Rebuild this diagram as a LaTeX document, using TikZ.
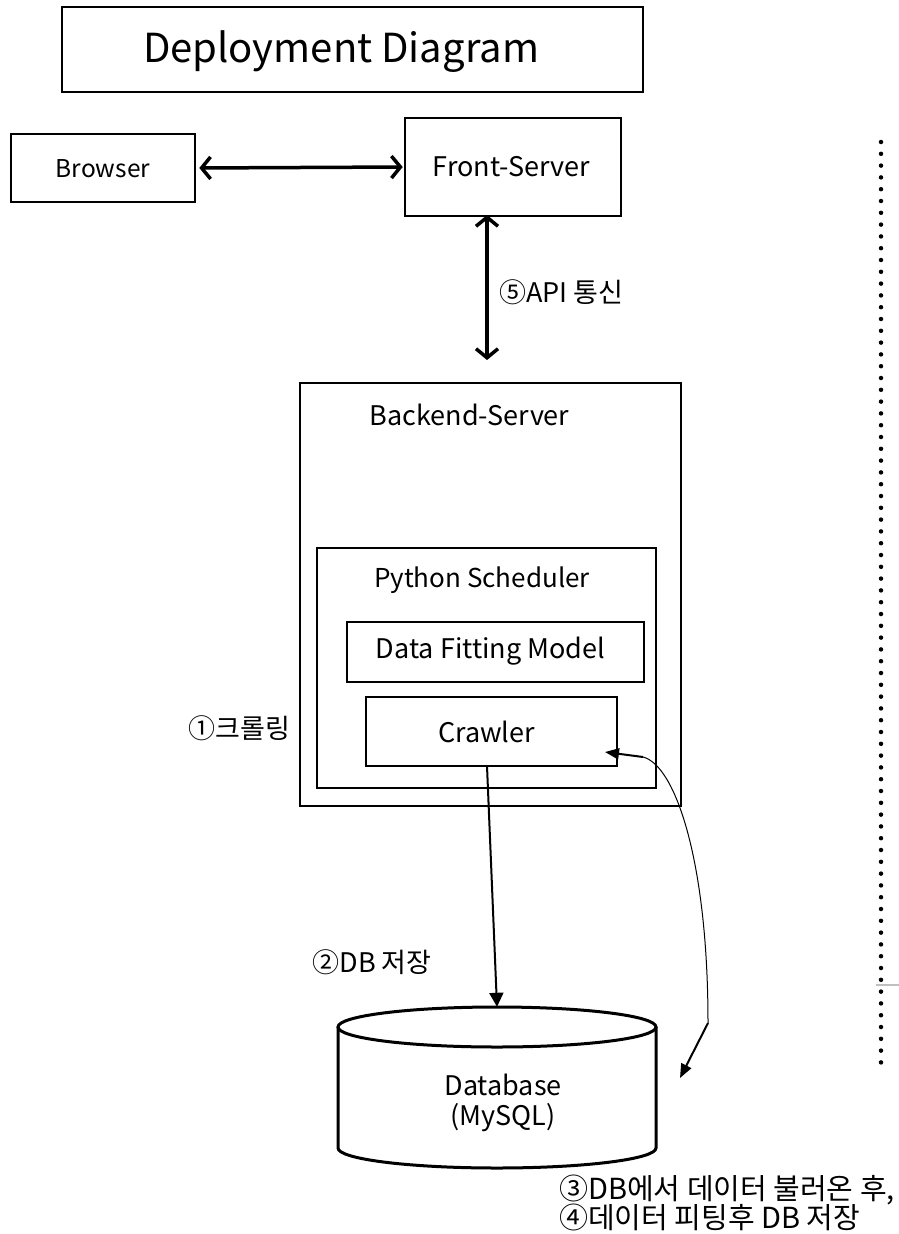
\documentclass[tikz,border=0pt]{standalone}
\usepackage{fontspec}
\setmainfont{Noto Sans CJK KR}
\usetikzlibrary{arrows.meta}
\begin{document}
\begin{tikzpicture}[x=1pt,y=-1pt,
  box/.style={draw=black, line width=2.6pt, inner sep=0pt},
  lbl/.style={inner sep=0pt, anchor=base, font=\fontsize{27}{32}\selectfont},
  bigarrow/.style={line width=3.5pt, {Straight Barb[length=9pt,width=22pt,line width=3.5pt]}-{Straight Barb[length=9pt,width=22pt,line width=3.5pt]}},
  downarrow/.style={line width=2pt, -{Triangle[length=14pt,width=14pt]}},
  curvearrow/.style={line width=2pt, -{Triangle[length=14pt,width=11pt]}},
]
\useasboundingbox (0,0) rectangle (899,1234);
\fill[white] (0,0) rectangle (899,1234);

% title
\node[box, line width=2pt, minimum width=581pt, minimum height=85pt] (titlebox) at (352.5,49.5) {};
\node[lbl, font=\fontsize{40}{46}\selectfont] (title) at (341,62) {Deployment Diagram};

% browser / front server
\node[box, minimum width=184pt, minimum height=68pt] (browser) at (103,168) {};
\node[lbl, font=\fontsize{24.5}{28}\selectfont] (browsertxt) at (103,177) {Browser};
\node[box, minimum width=216pt, minimum height=98pt] (front) at (513,167) {};
\node[lbl] (fronttxt) at (511.5,176) {Front-Server};
\draw[bigarrow, shorten <=3pt, shorten >=1pt] (browser.east) -- (front.west);

% API arrow
\coordinate (apitop) at (487,215);
\coordinate (apibot) at (487,360);
\draw[bigarrow] (apitop) -- (apibot);
\node[lbl] (apitxt) at (561.5,302) {⑤API 통신};

% backend
\node[box, minimum width=381pt, minimum height=423pt] (backend) at (490.5,594.5) {};
\node[lbl] (backendtxt) at (469.5,425) {Backend-Server};
\node[box, minimum width=339pt, minimum height=240pt] (sched) at (486.5,668) {};
\node[lbl, font=\fontsize{26}{30}\selectfont] (schedtxt) at (482,587) {Python Scheduler};
\node[box, minimum width=297pt, minimum height=60pt] (fit) at (495.5,652) {};
\node[lbl] (fittxt) at (490.5,658) {Data Fitting Model};
\node[box, minimum width=251pt, minimum height=69pt] (crawler) at (491.5,731.5) {};
\node[lbl] (crawlertxt) at (486.5,742) {Crawler};
\node[lbl] (crawltxt) at (239.5,738) {①크롤링};

% database cylinder
\node[inner sep=0pt, minimum width=318pt, minimum height=161pt] (db) at (497,1087.5) {};
\draw[line width=3pt] (497,1027) ellipse [x radius=159pt, y radius=20pt];
\draw[line width=3pt] (338,1027) -- (338,1148) arc[start angle=180, end angle=360, x radius=159pt, y radius=20pt] -- (656,1027);
\node[inner sep=0pt, align=center, font=\fontsize{27}{30}\selectfont] (dbtxt) at (503,1103) {Database\\(MySQL)};

% crawler -> db
\coordinate (cstart) at (487,766);
\draw[downarrow] (cstart) -- (db.north);
\node[lbl] (savetxt) at (372,972) {②DB 저장};

% curved connector
\coordinate (ctip) at (605,752);
\coordinate (cbend) at (643,757);
\coordinate (dbend) at (708,1023);
\coordinate (dtip) at (680,1078);
\draw[line width=1pt] (cbend) .. controls (675,765) and (708,860) .. (dbend);
\draw[curvearrow] (cbend) -- (ctip);
\draw[curvearrow] (dbend) -- (dtip);

% bottom text
\node[lbl, anchor=base west, font=\fontsize{29}{33}\selectfont] (note1) at (559,1199) {③DB에서 데이터 불러온 후,};
\node[lbl, anchor=base west, font=\fontsize{29}{33}\selectfont] (note2) at (559,1228) {④데이터 피팅후 DB 저장};

% dotted separator
\coordinate (dottop) at (881,142);
\coordinate (dotbot) at (881,1064);
\draw[line width=4.5pt, line cap=round, dash pattern=on 0pt off 11.8pt] (dottop) -- (dotbot);
\coordinate (tickl) at (876,985);
\coordinate (tickr) at (899,985);
\draw[black!25, line width=1.5pt] (tickl) -- (tickr);
\end{tikzpicture}
\end{document}
